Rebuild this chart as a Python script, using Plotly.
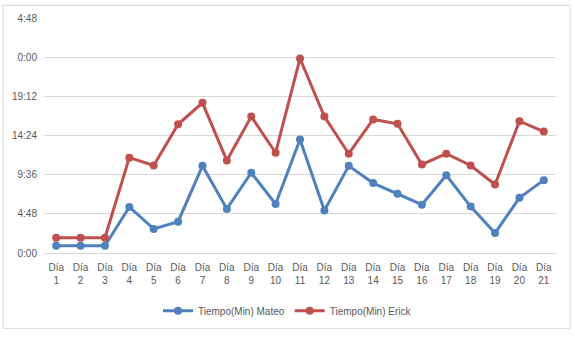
import plotly.graph_objects as go

dias = [f"Día<br>{i}" for i in range(1, 22)]
# values in fraction of a day (axis formatted as h:mm)
mateo = [0.037, 0.037, 0.037, 0.235, 0.123, 0.160, 0.445, 0.225, 0.410, 0.250, 0.580,
         0.217, 0.445, 0.357, 0.302, 0.247, 0.397, 0.237, 0.102, 0.282, 0.372]
erick = [0.078, 0.078, 0.078, 0.487, 0.447, 0.657, 0.767, 0.472, 0.697, 0.512, 0.993,
         0.697, 0.507, 0.682, 0.660, 0.452, 0.507, 0.447, 0.350, 0.673, 0.620]
y_ticks = [0, 0.2, 0.4, 0.6, 0.8, 1.0, 1.2]
y_labels = ["0:00", "4:48", "9:36", "14:24", "19:12", "0:00", "4:48"]

x = list(range(len(dias)))

fig = go.Figure()
fig.add_trace(go.Scatter(x=x, y=mateo, mode="lines+markers", name="Tiempo(Min) Mateo",
                         line=dict(color="#4F81BD", width=3), marker=dict(size=8, color="#4F81BD")))
fig.add_trace(go.Scatter(x=x, y=erick, mode="lines+markers", name="Tiempo(Min) Erick",
                         line=dict(color="#C0504D", width=3), marker=dict(size=8, color="#C0504D")))

font = dict(family="Liberation Sans, Arial", size=10, color="#595959")
fig.update_layout(
    width=575, height=337,
    margin=dict(l=44, r=19, t=16, b=81),
    paper_bgcolor="white", plot_bgcolor="white",
    font=font,
    showlegend=True,
    legend=dict(orientation="h", x=(287.5 - 44) / 512, xanchor="center",
                y=(256 - 315) / 240, yanchor="middle", font=font,
                itemwidth=30, tracegroupgap=0),
    xaxis=dict(range=[-0.5, 20.5], tickvals=x, ticktext=dias, showgrid=False,
               showline=True, linecolor="#D9D9D9", linewidth=1, ticks="",
               zeroline=False, tickfont=font, fixedrange=True, ticklabelstandoff=5),
    yaxis=dict(range=[0, 1.2], tickvals=y_ticks, ticktext=y_labels, showgrid=True,
               gridcolor="#D9D9D9", gridwidth=1, zeroline=False, showline=False,
               ticks="", tickfont=font, ticklabelstandoff=6),
    shapes=[dict(type="rect", xref="paper", yref="paper",
                 x0=(3 - 44) / 512, x1=(570 - 44) / 512,
                 y0=(256 - 333) / 240, y1=(256 - 3) / 240,
                 line=dict(color="#D9D9D9", width=1), fillcolor="rgba(0,0,0,0)", layer="below")],
)

fig.write_html("out.html")
